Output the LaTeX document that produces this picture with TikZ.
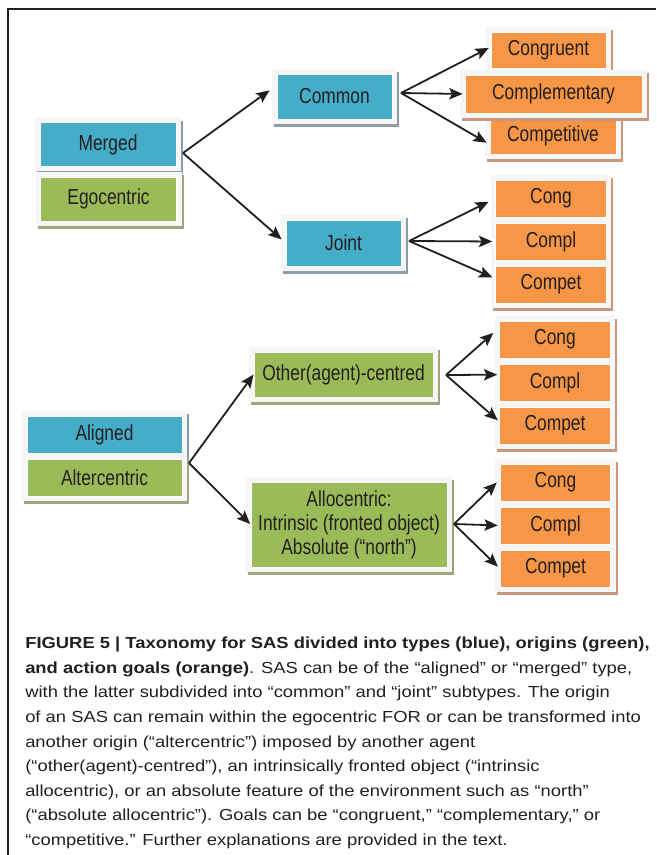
\documentclass[tikz,border=0pt]{standalone}
\usepackage{fontspec}
\setmainfont{Liberation Sans}
\newfontfamily\boxfont[FakeStretch=0.8]{Liberation Sans}
\newfontfamily\capfont[FakeStretch=1.15]{Liberation Sans}
\usepackage{xcolor}
\usepackage{tikz}
\usetikzlibrary{arrows.meta}
\definecolor{ink}{HTML}{231F20}
\definecolor{frame}{HTML}{F6F6F6}
\definecolor{blue}{HTML}{45ADC8}
\definecolor{green}{HTML}{9BBB59}
\definecolor{orange}{HTML}{F79646}
\definecolor{bshade}{HTML}{8E9CA7}
\definecolor{gshade}{HTML}{A0A47F}
\definecolor{oshade}{HTML}{C9987A}
\tikzset{
  card/.style={rectangle, inner sep=0pt, draw=white, line width=0.6pt, text=ink,
    align=center, font=\boxfont\fontsize{16.3}{18}\selectfont,
    preaction={draw=#1, line width=7.5pt, transform canvas={shift={(1.5pt,-2.25pt)}}},
    preaction={draw=frame, line width=7.5pt}},
  typebox/.style={card=bshade, fill=blue},
  originbox/.style={card=gshade, fill=green},
  goalbox/.style={card=oshade, fill=orange, minimum width=83pt, minimum height=27.75pt},
  arr/.style={draw=ink, line width=1.35pt, -{Stealth[length=10pt, width=8.5pt, inset=2pt]}, shorten >=1.5pt},
  rim/.style={draw=ink, line width=1.3pt},
  capt/.style={text=ink, align=left, inner sep=0pt, font=\capfont\fontsize{12}{18.4}\selectfont},
}
\begin{document}
\begin{tikzpicture}[x=0.75pt, y=-0.75pt]
  \useasboundingbox (0,0) rectangle (656,855);
  \draw[rim] (8.3,855) -- (8.3,9) -- (656,9);
  % types and origins
  \node[typebox, minimum width=102pt, minimum height=32.5pt] (merged) at (108,144.5) {Merged};
  \node[originbox, minimum width=102pt, minimum height=33pt] (ego) at (108.5,199) {Egocentric};
  \node[typebox, minimum width=86.25pt, minimum height=33.75pt] (common) at (334.5,96.5) {Common};
  \node[typebox, minimum width=86.25pt, minimum height=34.5pt] (joint) at (343.5,243) {Joint};
  \node[typebox, minimum width=116.25pt, minimum height=27.75pt] (aligned) at (104.5,434.5) {Aligned};
  \node[originbox, minimum width=116.25pt, minimum height=27.75pt] (alter) at (104.5,477.5) {Altercentric};
  \node[originbox, minimum width=134.25pt, minimum height=33.75pt] (other) at (343.5,374.5) {Other(agent)-centred};
  \node[originbox, minimum width=147pt, minimum height=63.75pt] (allo) at (349,524.5)
    {Allocentric:\\Intrinsic (fronted object)\\Absolute (“north”)};
  % goals
  \node[goalbox, minimum width=86.25pt, minimum height=27pt] (congruent) at (548.5,50) {Congruent};
  \node[goalbox, minimum width=94.5pt] (competitive) at (553,135.5) {Competitive};
  \node[goalbox, minimum width=132.75pt, minimum height=28.5pt] (complementary) at (553.5,94) {Complementary};
  \foreach \g/\x/\y in {j/551/198.5, o/555/339.5, a/555.5/482.5} {
    \node[goalbox] (\g cong) at (\x,\y) {Cong};
    \node[goalbox] (\g compl) at (\x,\y+43) {Compl};
    \node[goalbox] (\g compet) at (\x,\y+86) {Compet};
  }
  % forks
  \coordinate (mfork) at (183,153);
  \coordinate (cfork) at (401,93);
  \coordinate (jfork) at (409,241);
  \coordinate (afork) at (189,463);
  \coordinate (ofork) at (446,375);
  \coordinate (lfork) at (454,524);
  \draw[arr, shorten >=6.5pt] (mfork) -- (common.169);
  \draw[arr, shorten >=4pt] (mfork) -- (joint.west);
  \draw[arr] (cfork) -- (congruent.177);
  \draw[arr] (cfork) -- (complementary.west);
  \draw[arr, shorten >=2.5pt] (cfork) -- (competitive.188);
  \draw[arr, shorten >=5.5pt] (jfork) -- (jcong.west);
  \draw[arr, shorten >=2.25pt] (jfork) -- (jcompl.west);
  \draw[arr, shorten >=2.4pt] (jfork) -- (jcompet.174);
  \draw[arr, shorten >=0pt] (afork) -- (other.west);
  \draw[arr, shorten >=0.5pt] (afork) -- (allo.west);
  \draw[arr, shorten >=6pt] (ofork) -- (ocong.168);
  \draw[arr] (ofork) -- (ocompl.172);
  \draw[arr] (ofork) -- (ocompet.176);
  \draw[arr, shorten >=3.2pt] (lfork) -- (acong.177);
  \draw[arr] (lfork) -- (acompl.west);
  \draw[arr, shorten >=2pt] (lfork) -- (acompet.west);
  % caption
  \node[capt, anchor=north west] (caption) at (25,637)
    {\textbf{FIGURE 5 | Taxonomy for SAS divided into types (blue), origins (green),}\\
     \textbf{and action goals (orange)}. SAS can be of the “aligned” or “merged” type,\\
     with the latter subdivided into “common” and “joint” subtypes. The origin\\
     of an SAS can remain within the egocentric FOR or can be transformed into\\
     another origin (“altercentric”) imposed by another agent\\
     (“other(agent)-centred”), an intrinsically fronted object (“intrinsic\\
     allocentric), or an absolute feature of the environment such as “north”\\
     (“absolute allocentric”). Goals can be “congruent,” “complementary,” or\\
     “competitive.” Further explanations are provided in the text.};
\end{tikzpicture}
\end{document}
